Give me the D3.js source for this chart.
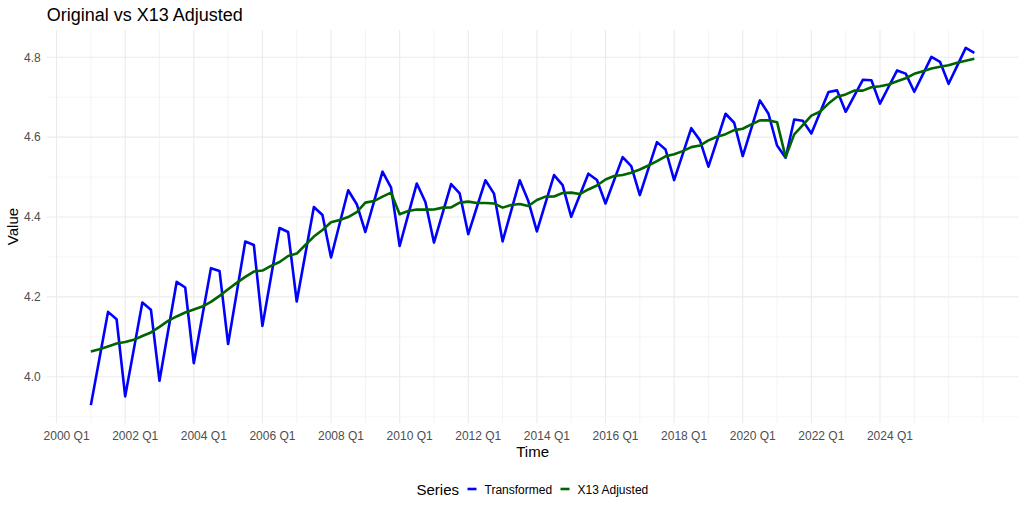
<!DOCTYPE html>
<html>
<head>
<meta charset="utf-8">
<script src="https://cdn.jsdelivr.net/npm/d3@7"></script>
<style>
  body { margin: 0; background: #fff; }
  text { font-family: "Liberation Sans", Arial, sans-serif; }
</style>
</head>
<body>
<div id="chart"></div>
<script>
// quarterly series, first point is 2001 Q1
const startYear = 2001;

const transformed = [
  3.929, 4.046, 4.1625, 4.144,
  3.951, 4.068, 4.186, 4.168,
  3.990, 4.114, 4.2375, 4.2235,
  4.034, 4.153, 4.272, 4.265,
  4.082, 4.210, 4.3385, 4.330,
  4.1275, 4.250, 4.3725, 4.3625,
  4.1885, 4.307, 4.425, 4.405,
  4.2985, 4.383, 4.467, 4.432,
  4.3625, 4.438, 4.5135, 4.4735,
  4.3275, 4.406, 4.484, 4.4375,
  4.336, 4.409, 4.4825, 4.459,
  4.357, 4.4245, 4.492, 4.4585,
  4.339, 4.4155, 4.492, 4.440,
  4.364, 4.4345, 4.505, 4.480,
  4.4005, 4.4545, 4.5085, 4.4925,
  4.434, 4.492, 4.550, 4.5275,
  4.455, 4.521, 4.5875, 4.569,
  4.4925, 4.5575, 4.6225, 4.5925,
  4.526, 4.592, 4.6585, 4.636,
  4.5525, 4.622, 4.692, 4.6585,
  4.579, 4.5485, 4.644, 4.641,
  4.609, 4.661, 4.713, 4.717,
  4.6635, 4.7035, 4.7435, 4.7425,
  4.684, 4.7255, 4.767, 4.759,
  4.7135, 4.757, 4.801, 4.7885,
  4.7335, 4.7785, 4.8235, 4.811
];

const x13Adjusted = [
  4.0635, 4.069, 4.076, 4.0835,
  4.087, 4.0925, 4.102, 4.111,
  4.125, 4.140, 4.151, 4.161,
  4.1685, 4.176, 4.1875, 4.2025,
  4.219, 4.235, 4.250, 4.2635,
  4.266, 4.2775, 4.2875, 4.3025,
  4.3085, 4.330, 4.351, 4.3675,
  4.387, 4.3925, 4.400, 4.4125,
  4.436, 4.440, 4.451, 4.461,
  4.407, 4.415, 4.419, 4.4185,
  4.419, 4.4235, 4.424, 4.436,
  4.4385, 4.435, 4.435, 4.434,
  4.4235, 4.430, 4.4325, 4.4275,
  4.4425, 4.451, 4.4515, 4.460,
  4.461, 4.4575, 4.469, 4.479,
  4.494, 4.5025, 4.505, 4.511,
  4.519, 4.529, 4.540, 4.552,
  4.557, 4.565, 4.575, 4.579,
  4.592, 4.601, 4.6075, 4.6175,
  4.621, 4.632, 4.642, 4.642,
  4.6375, 4.550, 4.607, 4.630,
  4.654, 4.6635, 4.684, 4.701,
  4.707, 4.7165, 4.7165, 4.725,
  4.7275, 4.732, 4.740, 4.7475,
  4.7585, 4.765, 4.772, 4.776,
  4.780, 4.786, 4.791, 4.796
];

const seriesNames = ["Transformed", "X13 Adjusted"];
const seriesColors = ["#0000ff", "#006400"];

const xTickYears = [2000, 2002, 2004, 2006, 2008, 2010, 2012, 2014, 2016, 2018, 2020, 2022, 2024];
const xTickLabels = ["2000 Q1", "2002 Q1", "2004 Q1", "2006 Q1", "2008 Q1", "2010 Q1", "2012 Q1",
                     "2014 Q1", "2016 Q1", "2018 Q1", "2020 Q1", "2022 Q1", "2024 Q1"];
const xGridYears = d3.range(2000, 2028);
const yTicks = [4.0, 4.2, 4.4, 4.6, 4.8];
const yMinor = [3.9, 4.1, 4.3, 4.5, 4.7];

// build rows
const rows = transformed.map((v, i) => ({
  t: startYear + i / 4,
  values: [v, x13Adjusted[i]]
}));

const W = 1024, H = 512;
const margin = {top: 30, right: 5.5, bottom: 89, left: 46.7};
const width = W - margin.left - margin.right,
      height = H - margin.top - margin.bottom;

const svg = d3.select("#chart")
  .append("svg")
  .attr("width", W)
  .attr("height", H);

const g = svg.append("g")
  .attr("transform", `translate(${margin.left},${margin.top})`);

// ggplot style 5% expansion
const tExt = d3.extent(rows, d => d.t);
const vExt = d3.extent(transformed.concat(x13Adjusted));
const tPad = (tExt[1] - tExt[0]) * 0.05;
const vPad = (vExt[1] - vExt[0]) * 0.05;

const x = d3.scaleLinear()
  .domain([tExt[0] - tPad, tExt[1] + tPad])
  .range([0, width]);

const y = d3.scaleLinear()
  .domain([vExt[0] - vPad, vExt[1] + vPad])
  .range([height, 0]);

// grid
g.append("g").selectAll("line")
  .data(yMinor)
  .enter().append("line")
  .attr("x1", 0).attr("x2", width)
  .attr("y1", d => y(d)).attr("y2", d => y(d))
  .attr("stroke", "#f0f0f0").attr("stroke-width", 0.6);

g.append("g").selectAll("line")
  .data(yTicks)
  .enter().append("line")
  .attr("x1", 0).attr("x2", width)
  .attr("y1", d => y(d)).attr("y2", d => y(d))
  .attr("stroke", "#ebebeb").attr("stroke-width", 1.1);

g.append("g").selectAll("line")
  .data(xGridYears)
  .enter().append("line")
  .attr("x1", d => x(d)).attr("x2", d => x(d))
  .attr("y1", 0).attr("y2", height)
  .attr("stroke", d => xTickYears.includes(d) ? "#ebebeb" : "#f0f0f0")
  .attr("stroke-width", d => xTickYears.includes(d) ? 1.1 : 0.8);

// axes text
const yAxis = g.append("g")
  .call(d3.axisLeft(y).tickValues(yTicks).tickFormat(d3.format(".1f")).tickSize(0).tickPadding(6));
yAxis.select(".domain").remove();
yAxis.selectAll("text")
  .attr("fill", "#4d4d4d")
  .style("font-size", "12px");

const labelShift = 10;
g.append("g").selectAll("text")
  .data(xTickYears)
  .enter().append("text")
  .attr("x", d => x(d) + labelShift)
  .attr("y", height + 17)
  .attr("text-anchor", "middle")
  .attr("fill", "#4d4d4d")
  .style("font-size", "12px")
  .text((d, i) => xTickLabels[i]);

// lines
const line = idx => d3.line()
  .x(d => x(d.t))
  .y(d => y(d.values[idx]));

seriesNames.forEach((name, i) => {
  g.append("path")
    .datum(rows)
    .attr("fill", "none")
    .attr("stroke", seriesColors[i])
    .attr("stroke-width", 2.6)
    .attr("stroke-linejoin", "round")
    .attr("d", line(i));
});

// titles
svg.append("text")
  .attr("x", margin.left)
  .attr("y", 21)
  .attr("fill", "#000")
  .style("font-size", "18px")
  .text("Original vs X13 Adjusted");

svg.append("text")
  .attr("x", margin.left + width / 2)
  .attr("y", 457)
  .attr("text-anchor", "middle")
  .style("font-size", "15px")
  .text("Time");

svg.append("text")
  .attr("transform", `translate(18,${margin.top + height / 2}) rotate(-90)`)
  .attr("text-anchor", "middle")
  .style("font-size", "15px")
  .text("Value");

// legend
const legend = svg.append("g").attr("transform", "translate(416.5,489)");
legend.append("text")
  .attr("x", 0).attr("y", 5.5)
  .style("font-size", "15px")
  .text("Series");

const keyX = [51, 144];
seriesNames.forEach((name, i) => {
  legend.append("line")
    .attr("x1", keyX[i]).attr("x2", keyX[i] + 9)
    .attr("y1", 0).attr("y2", 0)
    .attr("stroke", seriesColors[i])
    .attr("stroke-width", 2.6);
  legend.append("text")
    .attr("x", keyX[i] + 17)
    .attr("y", 4.5)
    .style("font-size", "12px")
    .text(name);
});
</script>
</body>
</html>
